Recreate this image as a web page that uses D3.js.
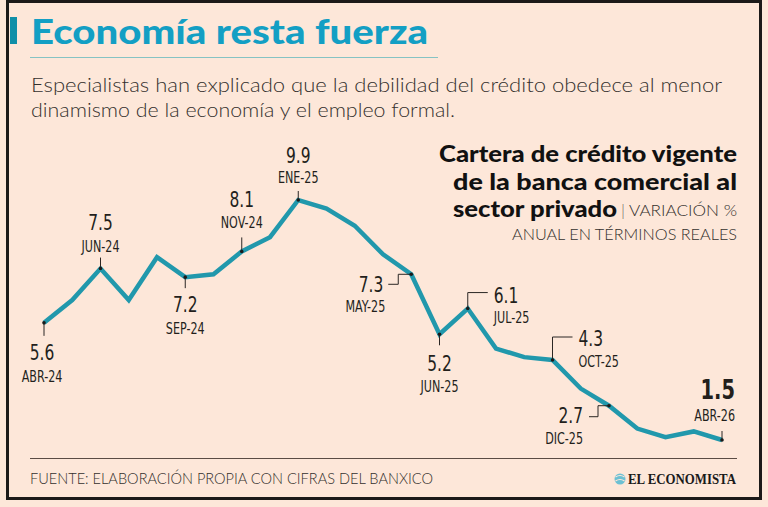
<!DOCTYPE html>
<html>
<head>
<meta charset="utf-8">
<script src="https://cdn.jsdelivr.net/npm/d3@7"></script>
<style>
  body { margin: 0; background: #fde7d9; }
  svg { display: block; }
</style>
</head>
<body>
<div id="chart"></div>
<script>
// Cartera de crédito vigente, variación % anual real

const months = ["ABR-24", "MAY-24", "JUN-24", "JUL-24", "AGO-24", "SEP-24", "OCT-24", "NOV-24", "DIC-24",
    "ENE-25", "FEB-25", "MAR-25", "ABR-25", "MAY-25", "JUN-25", "JUL-25", "AGO-25", "SEP-25", "OCT-25",
    "NOV-25", "DIC-25", "ENE-26", "FEB-26", "MAR-26", "ABR-26"];
const values = [5.6, 6.4, 7.5, 6.4, 7.9, 7.2, 7.3, 8.1, 8.6,
    9.9, 9.6, 9.0, 8.0, 7.3, 5.2, 6.1, 4.7, 4.4, 4.3,
    3.3, 2.7, 1.9, 1.6, 1.8, 1.5];
const labeled = ["ABR-24", "JUN-24", "SEP-24", "NOV-24", "ENE-25", "MAY-25", "JUN-25", "JUL-25", "OCT-25", "DIC-25", "ABR-26"];

const title = "Economía resta fuerza";
const subtitle = ["Especialistas han explicado que la debilidad del crédito obedece al menor",
    "dinamismo de la economía y el empleo formal."];
const source = "FUENTE: ELABORACIÓN PROPIA CON CIFRAS DEL BANXICO";

const w = 768, h = 507;
const teal = "#2198ac";
const ink = "#231f1c";
const narrow = "'Liberation Sans Narrow', 'DejaVu Sans Condensed', sans-serif";

let svg = d3.select("#chart").append("svg")
    .attr("width", w)
    .attr("height", h);

svg.append("rect").attr("width", w).attr("height", h).attr("fill", "#fde7d9");
svg.append("rect")
    .attr("x", 7.5).attr("y", 1.5)
    .attr("width", 753).attr("height", 497)
    .attr("fill", "none")
    .attr("stroke", "#1c1a19")
    .attr("stroke-width", 3);

// header
svg.append("rect").attr("x", 10).attr("y", 17).attr("width", 7).attr("height", 27).attr("fill", "#0f8fa8");
svg.append("text")
    .attr("x", 31).attr("y", 44)
    .attr("font-family", "Lato, 'Open Sans', sans-serif")
    .attr("font-weight", 900)
    .attr("font-size", 35)
    .attr("fill", "#139fc4")
    .attr("textLength", 397)
    .attr("lengthAdjust", "spacingAndGlyphs")
    .text(title);
svg.append("line")
    .attr("x1", 30).attr("x2", 438).attr("y1", 57.5).attr("y2", 57.5)
    .attr("stroke", "#86c3c3").attr("stroke-width", 1);

let subLens = [691, 424];
svg.selectAll(".sub").data(subtitle).enter().append("text")
    .attr("class", "sub")
    .attr("x", 31)
    .attr("y", (d, i) => 92 + i * 25)
    .attr("font-family", "Lato, sans-serif")
    .attr("font-weight", 300)
    .attr("font-size", 20)
    .attr("fill", "#34302d")
    .attr("textLength", (d, i) => subLens[i])
    .attr("lengthAdjust", "spacingAndGlyphs")
    .text(d => d);

// chart title on the right
let boldLines = [
    {t: "Cartera de crédito vigente", x: 737, y: 162, len: 298},
    {t: "de la banca comercial al", x: 737, y: 190, len: 284},
    {t: "sector privado", x: 617, y: 217, len: 164}
];
svg.selectAll(".ctitle").data(boldLines).enter().append("text")
    .attr("class", "ctitle")
    .attr("x", d => d.x).attr("y", d => d.y)
    .attr("text-anchor", "end")
    .attr("font-family", "Lato, 'Open Sans', sans-serif")
    .attr("font-weight", 900)
    .attr("font-size", 23)
    .attr("fill", "#111")
    .attr("textLength", d => d.len)
    .attr("lengthAdjust", "spacingAndGlyphs")
    .text(d => d.t);
let lightLines = [
    {t: "|", x: 623, y: 216, len: 3, anchor: "middle"},
    {t: "VARIACIÓN %", x: 737, y: 216, len: 108, anchor: "end"},
    {t: "ANUAL EN TÉRMINOS REALES", x: 737, y: 240, len: 225, anchor: "end"}
];
svg.selectAll(".clight").data(lightLines).enter().append("text")
    .attr("class", "clight")
    .attr("x", d => d.x).attr("y", d => d.y)
    .attr("text-anchor", d => d.anchor)
    .attr("font-family", "Lato, sans-serif")
    .attr("font-weight", 300)
    .attr("font-size", 16)
    .attr("fill", "#34302d")
    .attr("textLength", d => d.len)
    .attr("lengthAdjust", "spacingAndGlyphs")
    .text(d => d.t);

// scales
let xScale = d3.scalePoint().domain(months).range([44, 722]);
let yScale = d3.scaleLinear().domain([1.5, 9.9]).range([440, 200]);

let data = months.map((m, i) => ({month: m, value: values[i]}));

svg.append("path")
    .datum(data)
    .attr("fill", "none")
    .attr("stroke", teal)
    .attr("stroke-width", 4.5)
    .attr("stroke-linejoin", "miter")
    .attr("d", d3.line().x(d => xScale(d.month)).y(d => yScale(d.value)));

// label layout: connector path, value and month position relative to the point
let layout = {
    "ABR-24": {path: [[0, 0], [0, 13]], anchor: "middle", vx: -2, vy: 37, my: 59},
    "JUN-24": {path: [[0, 0], [0, -11]], anchor: "middle", vx: 0, vy: -39, my: -17},
    "SEP-24": {path: [[0, 0], [0, 11]], anchor: "middle", vx: 0, vy: 35, my: 57},
    "NOV-24": {path: [[0, 0], [0, -14]], anchor: "middle", vx: 0, vy: -44, my: -23},
    "ENE-25": {path: [[0, 0], [0, -9]], anchor: "middle", vx: 0, vy: -37, my: -17},
    "MAY-25": {path: [[0, 0], [-13, 0], [-13, 10], [-23, 10]], anchor: "end", vx: -28, vy: 18, mx: -26, my: 38},
    "JUN-25": {path: [[0, 0], [0, 11]], anchor: "middle", vx: 0, vy: 37, my: 58},
    "JUL-25": {path: [[0, 0], [0, -16], [20, -16]], anchor: "start", vx: 26, vy: -6, my: 14},
    "OCT-25": {path: [[0, 0], [0, -23], [20, -23]], anchor: "start", vx: 26, vy: -14, my: 7},
    "DIC-25": {path: [[0, 0], [-11, 0], [-11, 11], [-20, 11]], anchor: "end", vx: -26, vy: 17, my: 38},
    "ABR-26": {path: [[0, 0], [0, -9]], anchor: "end", vx: 13, vy: -41, my: -19, bold: true}
};

let ann = svg.selectAll(".ann")
    .data(data.filter(d => labeled.includes(d.month)))
    .enter().append("g")
    .attr("class", "ann")
    .attr("transform", d => "translate(" + xScale(d.month) + "," + yScale(d.value) + ")");

ann.append("path")
    .attr("d", d => d3.line()(layout[d.month].path))
    .attr("fill", "none")
    .attr("stroke", "#2b2724")
    .attr("stroke-width", 1);
ann.append("circle").attr("r", 1.8).attr("fill", "#1b1b1b");

// values, condensed a bit more to look like the tall narrow face of the original
ann.append("g")
    .attr("transform", d => {
        let l = layout[d.month];
        return "translate(" + l.vx + "," + l.vy + ") scale(" + (l.bold ? 0.8 : 0.8) + ",1)";
    })
    .append("text")
    .attr("text-anchor", d => layout[d.month].anchor)
    .attr("font-family", narrow)
    .attr("font-weight", d => layout[d.month].bold ? 700 : 400)
    .attr("font-size", d => layout[d.month].bold ? 27 : 21.5)
    .attr("fill", ink)
    .text(d => d3.format(".1f")(d.value));

ann.append("g")
    .attr("transform", d => {
        let l = layout[d.month];
        let mx = l.mx !== undefined ? l.mx : l.vx;
        return "translate(" + mx + "," + l.my + ") scale(0.8,1)";
    })
    .append("text")
    .attr("text-anchor", d => layout[d.month].anchor)
    .attr("font-family", narrow)
    .attr("font-size", 15.5)
    .attr("fill", ink)
    .text(d => d.month);

// footer
svg.append("line")
    .attr("x1", 30).attr("x2", 737).attr("y1", 458.5).attr("y2", 458.5)
    .attr("stroke", "#5b4c44").attr("stroke-width", 1);
svg.append("text")
    .attr("x", 30).attr("y", 484)
    .attr("font-family", "Lato, sans-serif")
    .attr("font-weight", 300)
    .attr("font-size", 15)
    .attr("fill", "#34302d")
    .attr("textLength", 403)
    .attr("lengthAdjust", "spacingAndGlyphs")
    .text(source);

svg.append("circle").attr("cx", 620).attr("cy", 479).attr("r", 5.5).attr("fill", "#6cc0d3");
svg.append("path")
    .attr("d", "M615.5,477 Q620,474 624.5,477 M615.5,481 Q620,478 624.5,481")
    .attr("fill", "none").attr("stroke", "#fde7d9").attr("stroke-width", 1.2);
svg.append("text")
    .attr("x", 736).attr("y", 484)
    .attr("text-anchor", "end")
    .attr("font-family", "'Liberation Serif', 'DejaVu Serif', serif")
    .attr("font-weight", 700)
    .attr("font-size", 14)
    .attr("fill", "#1a1a1a")
    .attr("textLength", 108)
    .attr("lengthAdjust", "spacingAndGlyphs")
    .text("EL ECONOMISTA");
</script>
</body>
</html>
